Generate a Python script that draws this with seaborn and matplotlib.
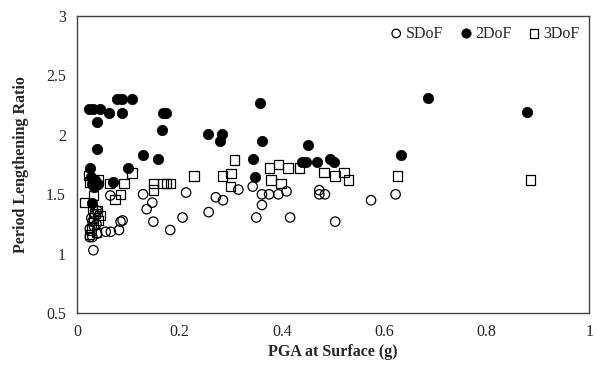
import matplotlib
matplotlib.use("Agg")
import matplotlib.pyplot as plt
import seaborn as sns
import pandas as pd

# Period lengthening ratio vs. surface PGA, three model types
sdof_pga = [0.032, 0.025, 0.030, 0.039, 0.056, 0.066, 0.082, 0.085, 0.089, 0.065,
            0.129, 0.136, 0.147, 0.149, 0.182, 0.206, 0.213, 0.257, 0.271, 0.285,
            0.315, 0.343, 0.350, 0.361, 0.361, 0.375, 0.393, 0.409, 0.416, 0.473,
            0.473, 0.484, 0.504, 0.574, 0.622,
            0.025, 0.030, 0.035, 0.028, 0.038, 0.033, 0.040]
sdof_ratio = [1.03, 1.14, 1.14, 1.17, 1.185, 1.185, 1.20, 1.27, 1.28, 1.49,
              1.50, 1.375, 1.43, 1.27, 1.20, 1.305, 1.515, 1.35, 1.475, 1.45,
              1.54, 1.565, 1.305, 1.50, 1.41, 1.50, 1.50, 1.525, 1.305, 1.535,
              1.50, 1.50, 1.27, 1.45, 1.50,
              1.21, 1.27, 1.33, 1.30, 1.25, 1.23, 1.36]

dof2_pga = [0.023, 0.032, 0.044, 0.039, 0.063, 0.079, 0.087, 0.087, 0.107, 0.039,
            0.026, 0.028, 0.029, 0.029, 0.041, 0.071, 0.099, 0.129, 0.159, 0.165,
            0.168, 0.174, 0.256, 0.283, 0.280, 0.343, 0.347, 0.357, 0.361, 0.451,
            0.440, 0.448, 0.469, 0.493, 0.501, 0.633, 0.685, 0.879, 0.035, 0.033]
dof2_ratio = [2.22, 2.22, 2.22, 2.11, 2.185, 2.305, 2.305, 2.185, 2.305, 1.885,
              1.725, 1.645, 1.59, 1.425, 1.59, 1.605, 1.725, 1.83, 1.80, 2.04,
              2.185, 2.185, 2.005, 2.005, 1.945, 1.80, 1.645, 2.27, 1.945, 1.915,
              1.775, 1.775, 1.775, 1.80, 1.775, 1.83, 2.31, 2.19, 1.62, 1.56]

dof3_pga = [0.022, 0.015, 0.024, 0.032, 0.024, 0.041, 0.063, 0.074, 0.085, 0.092,
            0.107, 0.149, 0.149, 0.168, 0.175, 0.182, 0.228, 0.284, 0.301, 0.307,
            0.300, 0.376, 0.379, 0.393, 0.398, 0.412, 0.434, 0.482, 0.504, 0.521,
            0.530, 0.626, 0.885,
            0.030, 0.035, 0.040, 0.045, 0.032, 0.042, 0.028, 0.038]
dof3_ratio = [1.66, 1.43, 1.605, 1.49, 1.16, 1.62, 1.59, 1.455, 1.50, 1.59,
              1.68, 1.59, 1.535, 1.59, 1.59, 1.59, 1.655, 1.655, 1.675, 1.79,
              1.565, 1.72, 1.62, 1.75, 1.59, 1.72, 1.72, 1.685, 1.655, 1.685,
              1.62, 1.655, 1.62,
              1.38, 1.34, 1.36, 1.32, 1.30, 1.28, 1.20, 1.18]

sdof_df = pd.DataFrame({"pga": sdof_pga, "ratio": sdof_ratio})
dof2_df = pd.DataFrame({"pga": dof2_pga, "ratio": dof2_ratio})
dof3_df = pd.DataFrame({"pga": dof3_pga, "ratio": dof3_ratio})

sns.set_style("white")
plt.rcParams['font.family'] = ['Liberation Serif', 'DejaVu Serif']

fig = plt.figure(figsize=(5.97, 3.65), dpi=100)
ax = fig.add_axes([0.129, 0.142, 0.858, 0.814])

sns.scatterplot(data=sdof_df, x="pga", y="ratio", marker="o", s=46,
                facecolor="none", edgecolor="black", linewidth=0.9,
                label="SDoF", ax=ax)
sns.scatterplot(data=dof2_df, x="pga", y="ratio", marker="o", s=56,
                color="black", edgecolor="black", linewidth=0.5,
                label="2DoF", ax=ax)
sns.scatterplot(data=dof3_df, x="pga", y="ratio", marker="s", s=46,
                facecolor="none", edgecolor="black", linewidth=0.9,
                label="3DoF", ax=ax)

ax.set_xlim(0, 1)
ax.set_ylim(0.5, 3)
ax.set_xticks([0, 0.2, 0.4, 0.6, 0.8, 1])
ax.set_xticklabels(["0", "0.2", "0.4", "0.6", "0.8", "1"])
ax.set_yticks([0.5, 1, 1.5, 2, 2.5, 3])
ax.set_yticklabels(["0.5", "1", "1.5", "2", "2.5", "3"])
ax.tick_params(axis="both", length=0, labelsize=11.5, pad=8)
for sp in ax.spines.values():
    sp.set_color("#404040")
    sp.set_linewidth(1.0)

ax.set_xlabel("PGA at Surface (g)", fontsize=11.5, fontweight="bold", labelpad=3)
ax.set_ylabel("Period Lengthening Ratio", fontsize=11.5, fontweight="bold", labelpad=12)

ax.legend(loc="upper right", ncol=3, frameon=False, fontsize=11.5,
          handlelength=0.8, handletextpad=0.2, columnspacing=1.0,
          markerscale=0.9, borderaxespad=0.2)

fig.savefig("out.png", dpi=100)
